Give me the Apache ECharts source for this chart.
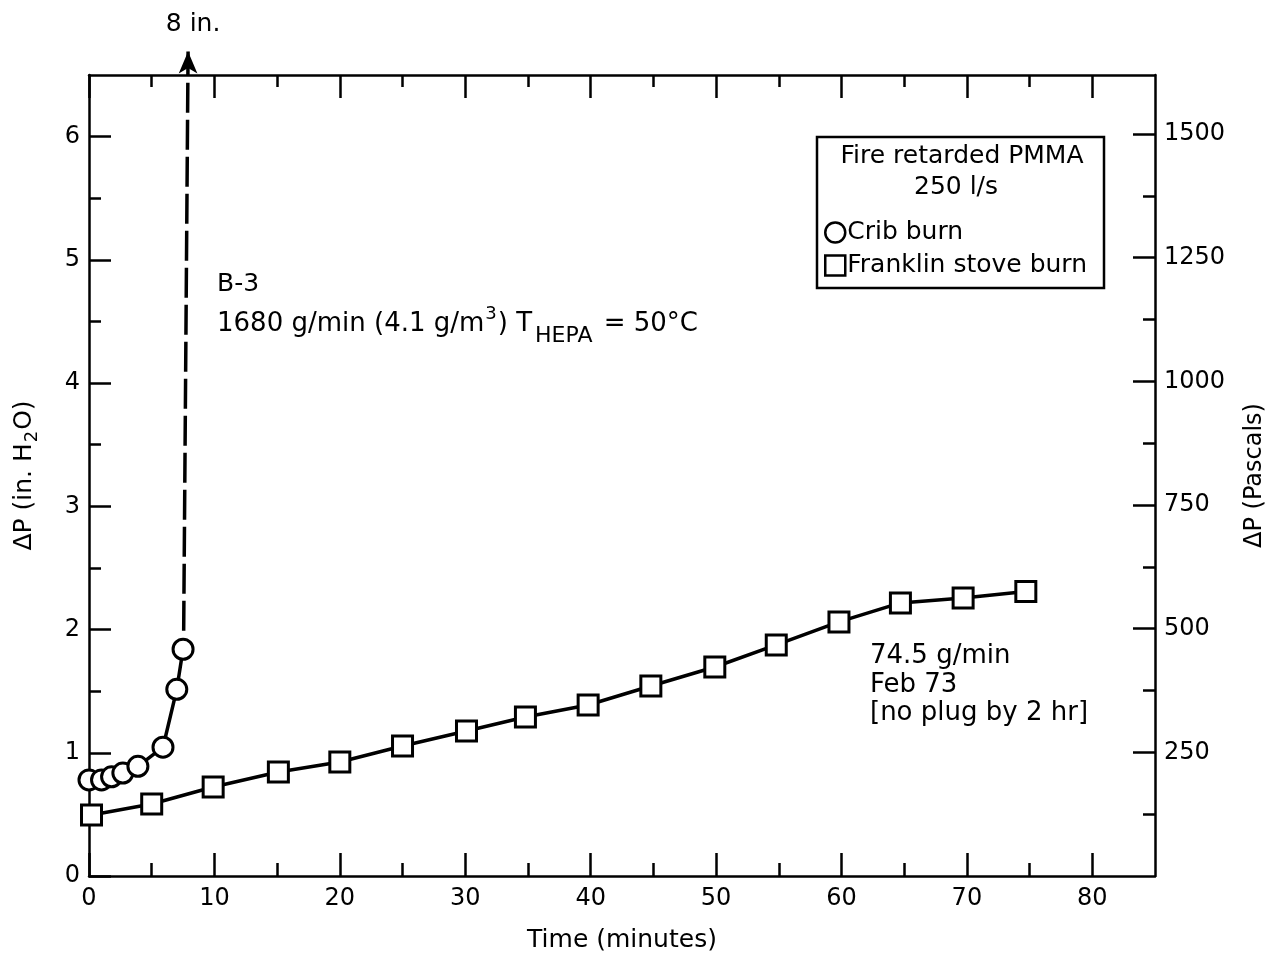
<!DOCTYPE html>
<html>
<head>
<meta charset="utf-8">
<script src="https://cdn.jsdelivr.net/npm/echarts@6/dist/echarts.min.js"></script>
<style>
html,body{margin:0;padding:0;background:#fff;overflow:hidden;}
#chart{width:1273px;height:957px;}
</style>
</head>
<body>
<div id="chart"></div>
<script>
// ---- data ----
const cribX = [0, 1, 1.8, 2.7, 3.9, 5.9, 7.0, 7.5];
const cribY = [0.78, 0.78, 0.805, 0.835, 0.89, 1.045, 1.515, 1.84];
const stoveX = [0.2, 5, 9.9, 15.1, 20, 25, 30.1, 34.8, 39.8, 44.8, 49.9, 54.8, 59.8, 64.7, 69.7, 74.7];
const stoveY = [0.495, 0.584, 0.722, 0.844, 0.925, 1.055, 1.177, 1.29, 1.388, 1.542, 1.696, 1.875, 2.062, 2.216, 2.256, 2.308];
const arrowX = [7.55, 7.9];
const arrowY = [1.99, 6.69];
const xMajor = [0, 10, 20, 30, 40, 50, 60, 70, 80];
const xMinor = [5, 15, 25, 35, 45, 55, 65, 75];
const yMajor = [0, 1, 2, 3, 4, 5, 6];
const yMinor = [0.5, 1.5, 2.5, 3.5, 4.5, 5.5];
const paMajor = [250, 500, 750, 1000, 1250, 1500];
const paMinor = [125, 375, 625, 875, 1125, 1375];
const PA_PER_IN = 249.09;
const X_MAX = 85;
const Y_MAX = 6.5;

const FONT = '"DejaVu Sans", sans-serif';
const BLACK = '#000';

const chart = echarts.init(document.getElementById('chart'));

function xAx(pos, ticks, len, showLine, labels) {
  return {
    type: 'value', position: pos, min: 0, max: X_MAX,
    axisLine: { show: showLine, onZero: false, lineStyle: { color: BLACK, width: 2.5 } },
    axisTick: { show: true, inside: true, length: len, customValues: ticks, lineStyle: { color: BLACK, width: 2.5 } },
    axisLabel: labels ? { show: true, customValues: labels, margin: 11, fontFamily: FONT, fontSize: 24, color: BLACK } : { show: false },
    splitLine: { show: false }
  };
}
function yAx(pos, max, ticks, len, showLine, labels, extra) {
  return Object.assign({
    type: 'value', position: pos, min: 0, max: max,
    axisLine: { show: showLine, onZero: false, lineStyle: { color: BLACK, width: 2.5 } },
    axisTick: { show: true, inside: true, length: len, customValues: ticks, lineStyle: { color: BLACK, width: 2.5 } },
    axisLabel: labels ? { show: true, customValues: labels, margin: 9, fontFamily: FONT, fontSize: 24, color: BLACK,
      formatter: function (v) { return String(Math.round(v)); } } : { show: false },
    splitLine: { show: false }
  }, extra || {});
}

const xAxes = [
  Object.assign(xAx('bottom', xMajor, 23, true, xMajor), {
    name: 'Time (minutes)', nameLocation: 'middle', nameGap: 52,
    nameTextStyle: { fontFamily: FONT, fontSize: 25, color: BLACK }
  }),
  xAx('bottom', xMinor, 13, false, null),
  xAx('top', xMajor, 23, true, null),
  xAx('top', xMinor, 12, false, null)
];
const yAxes = [
  yAx('left', Y_MAX, yMajor, 22, true, yMajor, {
    name: '{n|ΔP (in. H}{s|2}{n|O)}', nameLocation: 'middle', nameRotate: 90, nameGap: 48,
    nameTextStyle: {
      fontFamily: FONT, fontSize: 25, color: BLACK,
      rich: {
        n: { fontFamily: FONT, fontSize: 25, color: BLACK, lineHeight: 34, verticalAlign: 'middle' },
        s: { fontFamily: FONT, fontSize: 18, color: BLACK, lineHeight: 34, verticalAlign: 'bottom', padding: [0, 1, 0, 1] }
      }
    }
  }),
  yAx('left', Y_MAX, yMinor, 12, false, null),
  yAx('right', Y_MAX * PA_PER_IN, paMajor, 22, true, paMajor, {
    name: 'ΔP (Pascals)', nameLocation: 'middle', nameRotate: 90, nameGap: 88,
    nameTextStyle: { fontFamily: FONT, fontSize: 24, color: BLACK }
  }),
  yAx('right', Y_MAX * PA_PER_IN, paMinor, 12, false, null)
];

const cribData = cribX.map((x, i) => [x, cribY[i]]);
const stoveData = stoveX.map((x, i) => [x, stoveY[i]]);
const arrowData = [
  { value: [arrowX[0], arrowY[0]], symbol: 'none' },
  { value: [arrowX[1], arrowY[1]], symbol: 'arrow', symbolSize: [14, 22],
    label: { show: true, position: 'top', distance: 15, offset: [5, 0], formatter: '8 in.', fontFamily: FONT, fontSize: 25, color: BLACK } }
];

const markerStyle = { color: '#fff', borderColor: BLACK, borderWidth: 3 };

chart.setOption({
  animation: false,
  backgroundColor: '#fff',
  grid: { left: 89, right: 118, top: 75, bottom: 81, containLabel: false, outerBoundsMode: 'none' },
  xAxis: xAxes,
  yAxis: yAxes,
  legend: {
    orient: 'vertical', left: 824, top: 220, padding: 0,
    itemWidth: 20, itemHeight: 20, itemGap: 8, selectedMode: false,
    textStyle: { fontFamily: FONT, fontSize: 25, color: BLACK, padding: [0, 0, 0, -3] },
    data: [
      { name: 'Crib burn', icon: 'circle', itemStyle: { color: '#fff', borderColor: BLACK, borderWidth: 2.5 } },
      { name: 'Franklin stove burn', icon: 'rect', itemStyle: { color: '#fff', borderColor: BLACK, borderWidth: 2.5 } }
    ]
  },
  series: [
    {
      name: 'arrow', type: 'line', xAxisIndex: 0, yAxisIndex: 0, clip: false,
      data: arrowData, silent: true, z: 1,
      lineStyle: { color: BLACK, width: 3.5, type: [30, 7] },
      itemStyle: { color: BLACK, borderWidth: 0 }
    },
    {
      name: 'Crib burn', type: 'line', xAxisIndex: 0, yAxisIndex: 0, data: cribData,
      symbol: 'circle', symbolSize: 20, z: 3,
      lineStyle: { color: BLACK, width: 3.5 }, itemStyle: markerStyle
    },
    {
      name: 'Franklin stove burn', type: 'line', xAxisIndex: 0, yAxisIndex: 0, data: stoveData,
      symbol: 'rect', symbolSize: 20, z: 3,
      lineStyle: { color: BLACK, width: 3.5 }, itemStyle: markerStyle
    }
  ],
  graphic: [
    { type: 'rect', shape: { x: 817, y: 137, width: 287, height: 151 },
      style: { fill: 'none', stroke: BLACK, lineWidth: 2.5 }, silent: true },
    { type: 'text', x: 962, y: 156, silent: true,
      style: { text: 'Fire retarded PMMA', font: '25px ' + FONT, fill: BLACK, textAlign: 'center', textVerticalAlign: 'middle' } },
    { type: 'text', x: 956, y: 187, silent: true,
      style: { text: '250 l/s', font: '25px ' + FONT, fill: BLACK, textAlign: 'center', textVerticalAlign: 'middle' } },
    { type: 'text', x: 217, y: 284, silent: true,
      style: { text: 'B-3', font: '25px ' + FONT, fill: BLACK, textAlign: 'left', textVerticalAlign: 'middle' } },
    { type: 'text', x: 217, y: 324, silent: true,
      style: {
        text: '{n|1680 g/min (4.1 g/m}{sup|3}{n|) T}{sub|HEPA}{n| = 50°C}',
        textAlign: 'left', textVerticalAlign: 'middle', fill: BLACK,
        rich: {
          n: { fontFamily: FONT, fontSize: 26, fill: BLACK, color: BLACK, lineHeight: 46, verticalAlign: 'middle' },
          sup: { fontFamily: FONT, fontSize: 18, fill: BLACK, color: BLACK, lineHeight: 46, verticalAlign: 'top', padding: [4, 1, 0, 1] },
          sub: { fontFamily: FONT, fontSize: 22, fill: BLACK, color: BLACK, lineHeight: 46, verticalAlign: 'bottom', padding: [0, 3, 0, 3] }
        }
      } },
    { type: 'text', x: 870, y: 685, silent: true,
      style: { text: '74.5 g/min\nFeb 73\n[no plug by 2 hr]', font: '26px ' + FONT, lineHeight: 28.5, fill: BLACK, textAlign: 'left', textVerticalAlign: 'middle' } }
  ]
});
</script>
</body>
</html>
